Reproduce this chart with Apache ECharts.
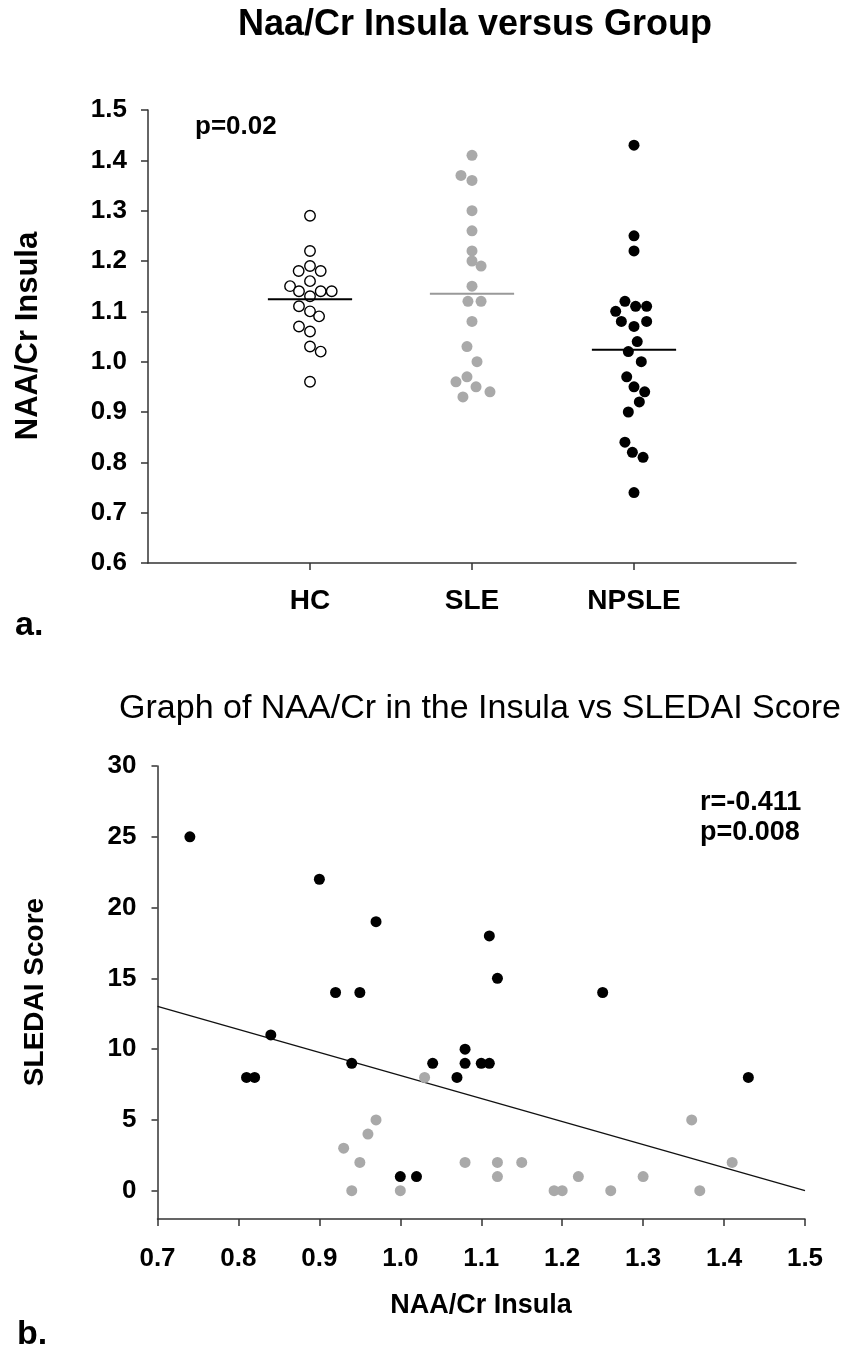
<!DOCTYPE html>
<html>
<head>
<meta charset="utf-8">
<title>NAA/Cr Insula</title>
<script src="https://cdn.jsdelivr.net/npm/echarts@6/dist/echarts.min.js"></script>
<style>
    html, body { margin: 0; padding: 0; background: #fff; }
    #chart { width: 847px; height: 1353px; }
</style>
</head>
<body>
<div id="chart"></div>
<script>
// 그룹 이름 (위 그래프 x축)
var groupNames = ['HC', 'SLE', 'NPSLE'];

// NAA/Cr Insula 값
var hcNaa = [1.29, 1.22, 1.19, 1.18, 1.18, 1.16, 1.15, 1.14, 1.14, 1.14, 1.13, 1.11, 1.10, 1.09, 1.07, 1.06, 1.03, 1.02, 0.96];
var hcJitter = [0, 0, 0, -0.07, 0.066, 0, -0.123, -0.068, 0.066, 0.134, 0, -0.068, 0, 0.056, -0.068, 0, 0, 0.066, 0];

var sleNaa = [1.41, 1.37, 1.36, 1.30, 1.26, 1.22, 1.20, 1.19, 1.15, 1.12, 1.12, 1.08, 1.03, 1.00, 0.97, 0.96, 0.95, 0.94, 0.93];
var sleJitter = [0, -0.068, 0, 0, 0, 0, 0, 0.056, 0, -0.025, 0.056, 0, -0.031, 0.031, -0.031, -0.099, 0.025, 0.111, -0.056];
var sleSledai = [2, 0, 5, 1, 0, 1, 0, 0, 2, 2, 1, 2, 8, 0, 5, 4, 2, 0, 3];

var npsleNaa = [1.43, 1.25, 1.22, 1.12, 1.11, 1.11, 1.10, 1.08, 1.08, 1.07, 1.04, 1.02, 1.00, 0.97, 0.95, 0.94, 0.92, 0.90, 0.84, 0.82, 0.81, 0.74];
var npsleJitter = [0, 0, 0, -0.056, 0.01, 0.078, -0.113, -0.078, 0.078, 0, 0.02, -0.035, 0.045, -0.045, 0, 0.066, 0.033, -0.035, -0.056, -0.01, 0.056, 0];
var npsleSledai = [8, 14, null, 15, 9, 18, 9, 10, 9, 8, 9, 1, 1, 19, 14, 9, 14, 22, 11, 8, 8, 25];

// 축 눈금
var sledaiTicks = [0, 5, 10, 15, 20, 25, 30];

var FONT = '"Liberation Sans", Arial, sans-serif';
var AXIS_COLOR = '#333';
var GRAY = '#a9a9a9';
var MEAN_HALF = 0.26;
var DOT = 11;

function mean(arr) {
    var s = 0;
    arr.forEach(function(v) { s += v; });
    return s / arr.length;
}

function groupPoints(values, jitter, pos) {
    return values.map(function(v, i) { return [pos + jitter[i], v]; });
}

function pairPoints(xs, ys) {
    var out = [];
    xs.forEach(function(x, i) {
        if (ys[i] !== null) out.push([x, ys[i]]);
    });
    return out;
}

function meanLine(values, pos) {
    var m = mean(values);
    return [[pos - MEAN_HALF, m], [pos + MEAN_HALF, m]];
}

// 최소제곱 회귀선
function regression(points) {
    var xs = points.map(function(p) { return p[0]; });
    var ys = points.map(function(p) { return p[1]; });
    var mx = mean(xs), my = mean(ys);
    var sxy = 0, sxx = 0;
    points.forEach(function(p) {
        sxy += (p[0] - mx) * (p[1] - my);
        sxx += (p[0] - mx) * (p[0] - mx);
    });
    var b = sxy / sxx;
    return function(x) { return my + b * (x - mx); };
}

var slePairs = pairPoints(sleNaa, sleSledai);
var npslePairs = pairPoints(npsleNaa, npsleSledai);
var fit = regression(slePairs.concat(npslePairs));

function axisLineStyle() {
    return { show: true, onZero: false, lineStyle: { color: AXIS_COLOR, width: 1.5 } };
}

function axisTickStyle(extra) {
    var t = { show: true, inside: false, length: 7, lineStyle: { color: AXIS_COLOR, width: 1.5 } };
    for (var k in extra) t[k] = extra[k];
    return t;
}

function labelStyle(extra) {
    var l = { color: '#000', fontFamily: FONT, fontWeight: 'bold', fontSize: 26 };
    for (var k in extra) l[k] = extra[k];
    return l;
}

function text(str, x, y, size, opts) {
    opts = opts || {};
    var weight = opts.weight || 'bold';
    return {
        type: 'text',
        x: x,
        y: y,
        rotation: opts.rotation || 0,
        style: {
            text: str,
            font: weight + ' ' + size + 'px ' + FONT,
            fill: '#000',
            align: opts.align || 'left',
            textAlign: opts.align || 'left',
            verticalAlign: 'middle',
            textVerticalAlign: 'middle'
        }
    };
}

var chart = echarts.init(document.getElementById('chart'));

var option = {
    animation: false,
    backgroundColor: '#fff',
    grid: [
        { left: 148, top: 110, width: 648, height: 453 },
        { left: 157.5, top: 766, width: 647.5, height: 453 }
    ],
    xAxis: [
        {
            type: 'value', gridIndex: 0, min: 0, max: 4,
            axisLine: axisLineStyle(),
            axisTick: axisTickStyle({ customValues: [1, 2, 3] }),
            axisLabel: labelStyle({
                customValues: [1, 2, 3],
                fontSize: 28,
                margin: 24,
                formatter: function(v) { return groupNames[Math.round(v) - 1] || ''; }
            }),
            splitLine: { show: false }
        },
        {
            type: 'value', gridIndex: 1, min: 0.7, max: 1.5, interval: 0.1,
            axisLine: axisLineStyle(),
            axisTick: axisTickStyle(),
            axisLabel: labelStyle({
                margin: 27,
                formatter: function(v) { return v.toFixed(1); }
            }),
            splitLine: { show: false }
        }
    ],
    yAxis: [
        {
            type: 'value', gridIndex: 0, min: 0.6, max: 1.5, interval: 0.1,
            axisLine: axisLineStyle(),
            axisTick: axisTickStyle(),
            axisLabel: labelStyle({
                margin: 21,
                formatter: function(v) { return v.toFixed(1); }
            }),
            splitLine: { show: false }
        },
        {
            type: 'value', gridIndex: 1, min: -2, max: 30,
            axisLine: axisLineStyle(),
            axisTick: axisTickStyle({ length: 6, customValues: sledaiTicks }),
            axisLabel: labelStyle({ margin: 21, customValues: sledaiTicks }),
            splitLine: { show: false }
        }
    ],
    series: [
        {
            type: 'scatter', xAxisIndex: 0, yAxisIndex: 0,
            data: groupPoints(hcNaa, hcJitter, 1),
            symbol: 'circle', symbolSize: DOT - 0.5,
            itemStyle: { color: '#fff', borderColor: '#000', borderWidth: 1.4, opacity: 1 }
        },
        {
            type: 'scatter', xAxisIndex: 0, yAxisIndex: 0,
            data: groupPoints(sleNaa, sleJitter, 2),
            symbol: 'circle', symbolSize: DOT,
            itemStyle: { color: GRAY, opacity: 1 }
        },
        {
            type: 'scatter', xAxisIndex: 0, yAxisIndex: 0,
            data: groupPoints(npsleNaa, npsleJitter, 3),
            symbol: 'circle', symbolSize: DOT,
            itemStyle: { color: '#000', opacity: 1 }
        },
        {
            type: 'line', xAxisIndex: 0, yAxisIndex: 0, z: 5,
            data: meanLine(hcNaa, 1), showSymbol: false, symbol: 'none',
            lineStyle: { color: '#000', width: 2 }
        },
        {
            type: 'line', xAxisIndex: 0, yAxisIndex: 0, z: 5,
            data: meanLine(sleNaa, 2), showSymbol: false, symbol: 'none',
            lineStyle: { color: '#999', width: 2 }
        },
        {
            type: 'line', xAxisIndex: 0, yAxisIndex: 0, z: 5,
            data: meanLine(npsleNaa, 3), showSymbol: false, symbol: 'none',
            lineStyle: { color: '#000', width: 2 }
        },
        {
            type: 'line', xAxisIndex: 1, yAxisIndex: 1, z: 1,
            data: [[0.7, fit(0.7)], [1.5, fit(1.5)]], showSymbol: false, symbol: 'none',
            lineStyle: { color: '#111', width: 1.3 }
        },
        {
            type: 'scatter', xAxisIndex: 1, yAxisIndex: 1, z: 3,
            data: slePairs, symbol: 'circle', symbolSize: DOT,
            itemStyle: { color: GRAY, opacity: 1 }
        },
        {
            type: 'scatter', xAxisIndex: 1, yAxisIndex: 1, z: 3,
            data: npslePairs, symbol: 'circle', symbolSize: DOT,
            itemStyle: { color: '#000', opacity: 1 }
        }
    ],
    graphic: [
        text('Naa/Cr Insula versus Group', 475, 25, 36, { align: 'center' }),
        text('p=0.02', 195, 127, 26),
        text('NAA/Cr Insula', 28, 336, 31, { align: 'center', rotation: Math.PI / 2 }),
        text('a.', 15, 626, 34),
        text('Graph of NAA/Cr in the Insula vs SLEDAI Score', 480, 709, 34, { align: 'center', weight: 'normal' }),
        text('r=-0.411', 700, 803, 27),
        text('p=0.008', 700, 833, 27),
        text('SLEDAI Score', 35, 992, 28, { align: 'center', rotation: Math.PI / 2 }),
        text('NAA/Cr Insula', 481, 1306, 27, { align: 'center' }),
        text('b.', 17, 1335, 34)
    ]
};

chart.setOption(option);
</script>
</body>
</html>
